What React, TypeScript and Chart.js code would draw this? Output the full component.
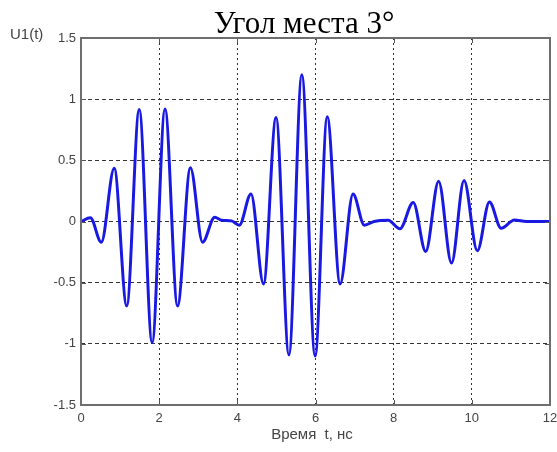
import React, { useEffect, useRef } from "react";
import { Chart, registerables } from "chart.js";

Chart.register(...registerables);

const chartTitle = "Угол места 3°";
const yAxisTitle = "U1(t)";
const xAxisTitle = "Время  t, нс";

const timeNs = [
  0, 0.24, 0.52, 0.85, 1.17, 1.49, 1.82, 2.15, 2.47, 2.8, 3.11, 3.42, 3.6, 3.85,
  4.05, 4.35, 4.67, 4.99, 5.32, 5.65, 5.99, 6.3, 6.63, 6.96, 7.25, 7.5, 7.86,
  8.16, 8.5, 8.82, 9.15, 9.48, 9.8, 10.14, 10.45, 10.75, 11.09, 11.4, 12,
];
const u1 = [
  0, 0.03, -0.17, 0.435, -0.69, 0.915, -0.99, 0.92, -0.69, 0.44, -0.17, 0.035,
  0.01, 0.005, -0.03, 0.225, -0.51, 0.85, -1.09, 1.2, -1.1, 0.856, -0.51, 0.225,
  -0.03, 0.0, 0.01, -0.06, 0.155, -0.245, 0.33, -0.34, 0.335, -0.24, 0.16,
  -0.055, 0.013, 0.0, 0.0,
];

const xTicks = [0, 2, 4, 6, 8, 10, 12];
const yTicks = [-1.5, -1, -0.5, 0, 0.5, 1, 1.5];

const decorPlugin = {
  id: "decor",
  afterDraw(chart: any) {
    const { ctx, chartArea } = chart;
    const { left, right, top, bottom } = chartArea;
    const xs = chart.scales.x;
    const ys = chart.scales.y;
    ctx.save();
    ctx.strokeStyle = "#555";
    ctx.lineWidth = 1;
    ctx.beginPath();
    xTicks.forEach((v) => {
      const px = Math.round(xs.getPixelForValue(v)) + 0.5;
      ctx.moveTo(px, bottom);
      ctx.lineTo(px, bottom - 5);
      ctx.moveTo(px, top);
      ctx.lineTo(px, top + 5);
    });
    yTicks.forEach((v) => {
      const py = Math.round(ys.getPixelForValue(v)) + 0.5;
      ctx.moveTo(left, py);
      ctx.lineTo(left + 5, py);
      ctx.moveTo(right, py);
      ctx.lineTo(right - 5, py);
    });
    ctx.stroke();
    ctx.strokeStyle = "#6e6e6e";
    ctx.lineWidth = 2;
    ctx.strokeRect(left, top, right - left, bottom - top);
    ctx.fillStyle = "#000";
    ctx.font = "31px 'Liberation Serif', 'DejaVu Serif', serif";
    ctx.textAlign = "center";
    ctx.textBaseline = "alphabetic";
    ctx.fillText(chartTitle, 304, 33);
    ctx.fillStyle = "#444";
    ctx.font = "15px 'Liberation Sans', Arial, sans-serif";
    ctx.textAlign = "left";
    ctx.textBaseline = "middle";
    ctx.fillText(yAxisTitle, 10, 35);
    ctx.textAlign = "center";
    ctx.fillText(xAxisTitle, 312, 435);
    ctx.restore();
  },
};

export default function App() {
  const ref = useRef<HTMLCanvasElement | null>(null);
  useEffect(() => {
    document.body.style.margin = "0";
    const canvas = ref.current;
    if (!canvas) return;
    const chart = new Chart(canvas, {
      type: "line",
      data: {
        datasets: [
          {
            data: timeNs.map((t, i) => ({ x: t, y: u1[i] })),
            borderColor: "rgb(25,25,225)",
            borderWidth: 3,
            pointRadius: 0,
            cubicInterpolationMode: "monotone",
            fill: false,
          },
        ],
      },
      options: {
        animation: false,
        responsive: false,
        devicePixelRatio: 1,
        layout: { padding: { top: 38, right: 0, left: 0, bottom: 0 } },
        plugins: {
          legend: { display: false },
          title: { display: false },
          tooltip: { enabled: false },
        },
        scales: {
          x: {
            type: "linear",
            min: 0,
            max: 12,
            afterFit: (s: any) => {
              s.height = 47;
              s.paddingRight = 7;
              s.paddingLeft = 0;
            },
            ticks: {
              stepSize: 2,
              padding: 6,
              color: "#444",
              font: { family: "'Liberation Sans', Arial, sans-serif", size: 13 },
              callback: (v: any) => String(v),
            },
            grid: {
              color: "#333",
              lineWidth: 1,
              drawTicks: false,
            },
            border: { display: false, dash: [2, 3] },
          },
          y: {
            type: "linear",
            min: -1.5,
            max: 1.5,
            afterFit: (s: any) => {
              s.width = 81;
            },
            ticks: {
              stepSize: 0.5,
              padding: 5,
              color: "#444",
              font: { family: "'Liberation Sans', Arial, sans-serif", size: 13 },
              callback: (v: any) => String(v),
            },
            grid: {
              color: "#333",
              lineWidth: 1,
              drawTicks: false,
            },
            border: { display: false, dash: [4, 3] },
          },
        },
      },
      plugins: [decorPlugin],
    });
    return () => chart.destroy();
  }, []);
  return (
    <div style={{ width: 557, height: 452, background: "#fff" }}>
      <canvas ref={ref} width={557} height={452} style={{ width: 557, height: 452, display: "block" }} />
    </div>
  );
}
